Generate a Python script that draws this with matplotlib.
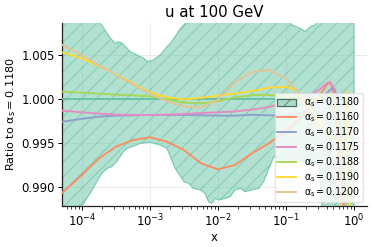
import numpy as np
import matplotlib
matplotlib.use("Agg")
from matplotlib import pyplot as plt
from matplotlib.patches import Patch

plt.rcParams["font.family"] = ["DejaVu Sans"]
plt.rcParams["mathtext.default"] = "regular"
plt.rcParams["hatch.linewidth"] = 0.6

# x grid of the curves, in log10(x)
x_log = [-4.29, -4.0, -3.75, -3.5, -3.25, -3.0, -2.75, -2.5, -2.25, -2.0,
         -1.75, -1.5, -1.25, -1.0, -0.85, -0.7, -0.6, -0.5, -0.4, -0.35,
         -0.3, -0.25, -0.2, -0.15, -0.1, -0.05]

r_1180 = [1.0] * len(x_log)
r_1160 = [0.98934, 0.99135, 0.99324, 0.99456, 0.99531, 0.99562, 0.99512, 0.99418, 0.99267, 0.99199,
          0.99248, 0.9938, 0.99494, 0.99633, 0.99739, 0.99853, 0.99947, 1.00042, 1.00155, 1.00193,
          1.0006, 0.99645, 0.99153, 0.987, 0.985, 0.984]
r_1170 = [0.99739, 0.99771, 0.99796, 0.99807, 0.99811, 0.99815, 0.99815, 0.99815, 0.99811, 0.99807,
          0.99807, 0.99818, 0.99811, 0.99803, 0.99815, 0.99868, 0.99928, 0.99985, 1.0006, 1.00098,
          1.0013, 1.0004, 0.9958, 0.9905, 0.986, 0.985]
r_1175 = [0.99864, 0.99845, 0.9983, 0.99819, 0.99815, 0.99815, 0.99819, 0.99826, 0.99837, 0.99845,
          0.99856, 0.99875, 0.99905, 0.99955, 0.99993, 1.0003, 1.0006, 1.00105, 1.00175, 1.00185,
          1.0012, 0.9985, 0.9935, 0.988, 0.985, 0.985]
r_1188 = [1.00079, 1.00068, 1.00057, 1.00045, 1.00038, 1.00026, 0.99992, 0.99955, 0.99945, 0.9997,
          1.00015, 1.0004, 1.00042, 1.00023, 1.0001, 1.0, 0.9999, 1.0, 1.0003, 1.0004,
          1.0002, 0.9985, 0.995, 0.99, 0.986, 0.985]
r_1190 = [1.00525, 1.00457, 1.0037, 1.00275, 1.0017, 1.00072, 1.00015, 0.99992, 1.00008, 1.00034,
          1.00057, 1.00087, 1.00125, 1.00132, 1.001, 0.9995, 0.9985, 0.9972, 0.9962, 0.9958,
          0.9955, 0.9952, 0.995, 0.9955, 1.0008, 0.987]
r_1200 = [1.00608, 1.00495, 1.00375, 1.0027, 1.0016, 1.0006, 0.9997, 0.99912, 0.999, 0.99985,
          1.0019, 1.003, 1.00325, 1.0023, 1.001, 0.999, 0.9975, 0.996, 0.9945, 0.9935,
          0.9925, 0.9905, 0.9885, 0.986, 0.985, 0.985]

# uncertainty band of alpha_s = 0.1180
band_up_log = [-4.29, -3.78, -3.73, -3.68, -3.58, -3.51, -3.46, -3.41, -3.36, -3.29,
               -3.19, -3.09, -3.04, -2.95, -2.85, -2.75, -2.70, -2.63, -2.55, -2.48,
               -2.43, -0.99, -0.96, -0.91, -0.79, -0.72, -0.64, -0.57, -0.52, -0.50, 0.0]
band_up = [1.0095, 1.0095, 1.00854, 1.00797, 1.00684, 1.00627, 1.00646, 1.00627, 1.0059, 1.00533,
           1.00495, 1.00457, 1.0042, 1.00438, 1.00495, 1.0059, 1.00627, 1.00703, 1.00797, 1.00854,
           1.0095, 1.0095, 1.0087, 1.00835, 1.00797, 1.0076, 1.00816, 1.00835, 1.0089, 1.0095, 1.0095]
band_lo_log = [-4.29, -4.02, -3.93, -3.85, -3.78, -3.71, -3.63, -3.56, -3.49, -3.39,
               -3.34, -3.26, -3.14, -3.0, -2.85, -2.75, -2.68, -2.63, -2.58, -2.50,
               -2.43, -2.36, -2.26, -2.19, -2.14, -2.09, -2.04, -1.99, -1.89, -1.82,
               -1.75, -1.67, -1.60, -1.50, -1.40, -1.33, -1.25, -1.18, -1.08, -0.99,
               -0.89, -0.79, -0.69, -0.59, -0.52, -0.49, -0.46, 0.0]
band_lo = [0.9865, 0.98757, 0.9887, 0.98965, 0.99059, 0.99153, 0.9921, 0.99229, 0.99286, 0.99399,
           0.99437, 0.99456, 0.99494, 0.99505, 0.99475, 0.99437, 0.99305, 0.9921, 0.99153, 0.99059,
           0.9904, 0.98983, 0.98965, 0.98927, 0.98832, 0.98813, 0.9887, 0.98851, 0.9887, 0.98889,
           0.98965, 0.98983, 0.98946, 0.98965, 0.98983, 0.99059, 0.9921, 0.99342, 0.99305, 0.99324,
           0.99267, 0.99305, 0.99248, 0.99286, 0.99229, 0.99002, 0.987, 0.9865]

series = [("0.1160", r_1160, "#fc8d62"),
          ("0.1170", r_1170, "#8da0cb"),
          ("0.1175", r_1175, "#e78ac3"),
          ("0.1188", r_1188, "#a6d854"),
          ("0.1190", r_1190, "#ffd92f"),
          ("0.1200", r_1200, "#e5c494")]

teal = "#66c2a5"

fig = plt.figure(figsize=(374 / 90, 247 / 90), dpi=90)
ax = fig.add_axes([0.166, 0.166, 0.815, 0.741])

x = 10 ** np.array(x_log)
bx = np.r_[10 ** np.array(band_up_log), 10 ** np.array(band_lo_log)[::-1]]
by = np.r_[band_up, band_lo[::-1]]
ax.fill(bx, by, facecolor=(0.4, 0.76, 0.647, 0.5), edgecolor=(0.4, 0.76, 0.647, 0.85),
        hatch="//", linewidth=0.9, zorder=2)
ax.plot(x, r_1180, color=teal, lw=1.5, zorder=3)

handles = [Patch(facecolor=(0.4, 0.76, 0.647, 0.5), edgecolor="#4f6e62", hatch="//",
                 label=r"$\alpha_s = 0.1180$")]
for name, vals, col in series:
    h, = ax.plot(x, vals, color=col, lw=1.5, zorder=3, label=r"$\alpha_s = $" + name)
    handles.append(h)

ax.set_xscale("log")
ax.set_xlim(5.1e-5, 1.55)
ax.set_ylim(0.98783, 1.00858)
ax.set_yticks([0.990, 0.995, 1.000, 1.005])
ax.set_yticklabels(["0.990", "0.995", "1.000", "1.005"])
ax.grid(True, which="major", color="#ececec", lw=0.8, zorder=0)
ax.set_axisbelow(True)
for s in ["top", "right"]:
    ax.spines[s].set_visible(False)
for s in ["left", "bottom"]:
    ax.spines[s].set_color("#222222")
    ax.spines[s].set_linewidth(1.0)
ax.tick_params(labelsize=9.3, length=3, width=0.8, pad=2.5)
ax.tick_params(which="minor", length=2, width=0.6)

ax.set_title("u at 100 GeV", fontsize=12, pad=5)
ax.set_xlabel("x", fontsize=9.3, labelpad=1)
ax.set_ylabel(r"Ratio to $\alpha_s = 0.1180$", fontsize=9, labelpad=3)

ax.legend(handles=handles, loc="lower right", bbox_to_anchor=(0.988, 0.022),
          borderaxespad=0, fontsize=7.6, labelspacing=0.12, handlelength=2.0,
          borderpad=0.3, framealpha=0.8, edgecolor="#dddddd", fancybox=True)

fig.savefig("out.png", dpi=90)
